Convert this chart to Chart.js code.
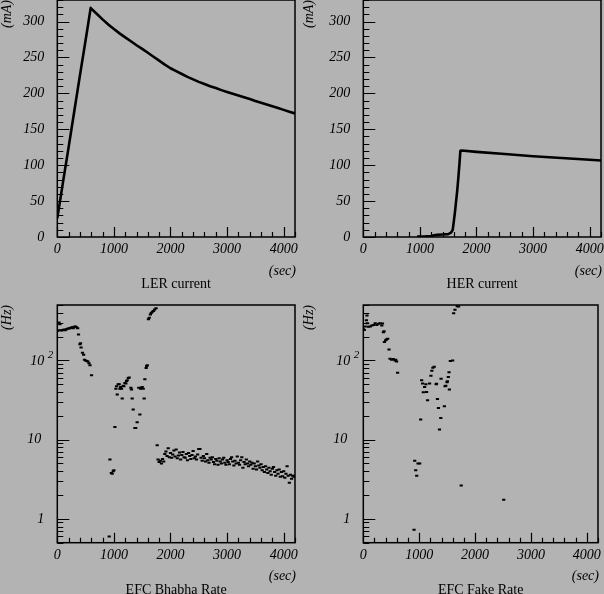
<!DOCTYPE html>
<html>
<head>
<meta charset="utf-8">
<script src="https://cdn.jsdelivr.net/npm/chart.js@4.4.0/dist/chart.umd.min.js"></script>
<style>
    html, body { margin: 0; padding: 0; background: #b3b3b3; }
    #contenedor { position: relative; width: 604px; height: 594px; overflow: hidden; background: #b3b3b3; }
    #contenedor canvas { position: absolute; }
</style>
</head>
<body>
<div id="contenedor">
    <canvas id="chartLer" width="302" height="297" style="left:0;top:0;"></canvas>
    <canvas id="chartHer" width="302" height="297" style="left:302px;top:0;"></canvas>
    <canvas id="chartBhabha" width="302" height="297" style="left:0;top:297px;"></canvas>
    <canvas id="chartFake" width="302" height="297" style="left:302px;top:297px;"></canvas>
</div>
<script>
//////////////////////////////////////////////////////////////////////////////////////
/// DATOS ////////////////////////////////////////////////////////
//////////////////////////////////////////////////////////////////////////////////////
const tiempoTicks = [0, 1000, 2000, 3000, 4000];
const corrienteTicks = [0, 50, 100, 150, 200, 250, 300];
const tasaTicks = [1, 10, 100];

// LER current (mA)
const lerTiempo = [0, 100, 200, 300, 400, 500, 590, 600, 700, 800, 900, 1000, 1100, 1200, 1300, 1400,
    1500, 1600, 1700, 1800, 1900, 2000, 2100, 2200, 2300, 2400, 2500, 2600, 2700, 2800, 2900,
    3000, 3100, 3200, 3300, 3400, 3500, 3600, 3700, 3800, 3900, 4000, 4100, 4200];
const lerCorriente = [26, 76, 125, 175, 225, 274, 319, 318, 310.5, 303, 296, 289.5, 283.5, 278, 272.5, 267,
    262, 256.5, 251, 245.5, 240, 235, 231, 227, 223, 219.5, 216, 213, 210, 207.5, 204.5,
    202, 199.5, 197, 194.5, 192, 189.5, 187, 184.5, 182, 179.5, 177, 174.5, 172];

// HER current (mA)
const herTiempo = [950, 1000, 1100, 1200, 1250, 1300, 1400, 1500, 1550, 1580, 1600, 1620, 1640, 1660,
    1680, 1700, 1715, 1740, 2000, 2500, 3000, 3500, 4000, 4200];
const herCorriente = [0.5, 0.8, 1.0, 1.5, 2.5, 3, 3.5, 4, 6, 10, 22, 35, 50, 65,
    83, 103, 120, 120.5, 118.5, 115.5, 112.5, 110, 107.5, 106.5];

// EFC Bhabha Rate (Hz)
const bhabhaTiempo = [0, 15, 30, 45, 60, 80, 100, 120, 140, 160, 180, 200, 220, 240, 260, 280, 300, 320, 340, 360,
    375, 400, 410, 420, 445, 465, 480, 500, 520, 540, 560, 578, 605,
    917, 930, 955, 970, 988, 1000, 1018,
    1035, 1047, 1059, 1076, 1094, 1106, 1120, 1135, 1147, 1165, 1176, 1195, 1212, 1223, 1235, 1255, 1271,
    1300, 1311, 1323, 1341, 1371, 1385, 1411, 1440, 1459, 1470, 1488, 1500, 1518, 1535, 1547, 1570, 1580, 1590,
    1610, 1625, 1645, 1660, 1680, 1700, 1720, 1745, 1765,
    1780, 1800, 1820, 1840, 1860, 1880, 1900, 1920, 1940, 1960, 1980, 2000, 2020, 2040, 2060, 2080, 2100,
    2120, 2140, 2160, 2180, 2200, 2220, 2240, 2260, 2280, 2300, 2320, 2340, 2360, 2380, 2400, 2420, 2440,
    2460, 2480, 2500, 2520, 2540, 2560, 2580, 2600, 2620, 2640, 2660, 2680, 2700, 2720, 2740, 2760, 2780,
    2800, 2820, 2840, 2860, 2880, 2900, 2920, 2940, 2960, 2980, 3000, 3020, 3040, 3060, 3080, 3100, 3120,
    3140, 3160, 3180, 3200, 3220, 3240, 3260, 3280, 3300, 3320, 3340, 3360, 3380, 3400, 3420, 3440, 3460,
    3480, 3500, 3520, 3540, 3560, 3580, 3600, 3620, 3640, 3660, 3680, 3700, 3720, 3740, 3760, 3780, 3800,
    3820, 3840, 3860, 3880, 3900, 3920, 3940, 3960, 3980, 4000, 4020, 4040, 4060, 4080, 4100, 4120, 4140,
    4160, 4180, 4200];
const bhabhaTasa = [235, 240, 300, 285, 240, 238, 242, 245, 240, 248, 250, 252, 255, 258, 262, 255, 265, 268, 262, 255,
    212, 160, 165, 145, 125, 118, 102, 100, 98, 97, 92, 87, 65,
    0.6, 5.6, 3.8, 3.7, 4.0, 4.1, 14.4,
    44, 47, 37, 50, 50, 44, 46, 44, 33, 48, 47, 52, 51, 55, 56, 60, 61,
    45, 43, 33, 24, 14, 14, 16.6, 45, 20.7, 44, 45, 46, 44, 33, 58, 80, 85, 87,
    330, 345, 380, 395, 410, 420, 440, 455, 8.5,
    5.6, 5.2, 5.4, 5.0, 5.7, 5.3, 6.6, 7.1, 6.2, 7.8, 6.0, 6.8, 5.9, 6.5, 7.3, 6.1, 7.5,
    5.8, 6.3, 6.9, 5.6, 6.4, 7.0, 6.0, 5.9, 6.6, 5.5, 6.8, 6.2, 5.7, 6.4, 7.2, 5.8, 6.1,
    5.6, 6.5, 7.6, 7.6, 5.9, 5.4, 6.2, 5.8, 5.3, 6.6, 5.5, 5.1, 5.9, 5.6, 6.0, 5.2, 4.9,
    5.7, 5.4, 4.8, 5.8, 5.3, 5.0, 5.6, 5.9, 5.1, 4.8, 5.5, 5.2, 4.9, 5.7, 6.0, 5.3, 4.7,
    5.4, 5.0, 6.1, 5.1, 4.8, 5.5, 6.0, 4.4, 5.2, 4.9, 5.6, 5.0, 4.6, 5.3, 4.8, 5.1, 4.3,
    5.0, 4.6, 4.2, 5.3, 4.7, 4.4, 4.9, 4.1, 4.5, 3.9, 4.6, 4.2, 3.8, 4.4, 4.0, 3.6, 4.3,
    4.5, 3.9, 3.5, 4.1, 3.7, 4.2, 3.4, 3.9, 3.45, 4.0, 3.3, 3.7, 4.6, 3.5, 2.85, 3.6, 3.2,
    3.5, 3.4, 3.5];

// EFC Fake Rate (Hz)
const fakeTiempo = [0, 18, 35, 55, 65, 71, 94, 124, 153, 183, 212, 242, 271, 301, 330, 343, 360, 372, 378, 401,
    414, 437, 460, 478, 507, 537, 566, 580, 596, 614,
    908, 920, 938, 956, 979, 1009, 1027, 1044, 1062, 1074, 1097, 1120, 1133, 1150, 1186, 1210, 1227, 1245,
    1269, 1304, 1310, 1327, 1345, 1363, 1387, 1392, 1451, 1463, 1476, 1499, 1504, 1522, 1534, 1540, 1558,
    1599, 1617, 1640, 1681, 1705, 1752, 2513];
const fakeTasa = [250, 242, 267, 320, 368, 295, 265, 268, 275, 280, 295, 280, 290, 295, 275, 292, 227, 234, 170, 180,
    184, 188, 137, 105, 102, 104, 100, 102, 97, 70,
    0.73, 5.4, 4.1, 3.5, 5.0, 5.0, 17.9, 56, 51, 39.5, 46, 50, 40, 31.5, 51, 64, 74, 81,
    83, 50, 50.6, 32.6, 25, 13.4, 18.8, 58.6, 26.4, 47, 48, 53, 54.6, 61.5, 71, 43, 98,
    100, 394, 434, 483, 478, 2.63, 1.74];

//////////////////////////////////////////////////////////////////////////////////////
/// PLUGIN PARA DIBUJAR EL MARCO ESTILO ROOT //////////////////////////////////////////
//////////////////////////////////////////////////////////////////////////////////////
const fuenteNum = "italic 14px 'Liberation Serif', 'DejaVu Serif', serif";

const marcoRoot = {
    id: 'marcoRoot',
    afterDatasetsDraw(chart, args, opts) {
        const ctx = chart.ctx;
        const ca = chart.chartArea;
        const xs = chart.scales.x;
        const ys = chart.scales.y;
        ctx.save();
        ctx.strokeStyle = '#000';
        ctx.fillStyle = '#000';

        // marco
        ctx.lineWidth = 1.5;
        ctx.strokeRect(ca.left, ca.top, ca.right - ca.left, ca.bottom - ca.top);

        // ticks eje x (hacia dentro)
        ctx.lineWidth = 1.2;
        ctx.beginPath();
        for (let v = 0; v <= xs.max; v += 200) {
            const px = Math.round(xs.getPixelForValue(v)) + 0.5;
            const largo = v % 1000 === 0 ? 10 : 5;
            ctx.moveTo(px, ca.bottom);
            ctx.lineTo(px, ca.bottom - largo);
        }
        // ticks eje y
        const menores = [];
        if (opts.log) {
            for (let e = -1; e <= 2; e++) {
                for (let d = 1; d <= 9; d++) {
                    const v = d * Math.pow(10, e);
                    if (v >= ys.min && v <= ys.max) menores.push(v);
                }
            }
        } else {
            for (let v = 0; v <= ys.max; v += 10) menores.push(v);
        }
        menores.forEach(v => {
            const py = Math.round(ys.getPixelForValue(v)) + 0.5;
            const mayor = opts.ticksY.some(t => Math.abs(t - v) < 1e-9);
            ctx.moveTo(ca.left, py);
            ctx.lineTo(ca.left + (mayor ? 12 : 6), py);
        });
        ctx.stroke();

        // etiquetas eje x
        ctx.font = fuenteNum;
        ctx.textAlign = 'center';
        ctx.textBaseline = 'middle';
        tiempoTicks.forEach(t => {
            ctx.fillText(String(t), xs.getPixelForValue(t), ca.bottom + 12.5);
        });

        // etiquetas eje y
        ctx.textAlign = 'right';
        opts.ticksY.forEach(t => {
            const py = ys.getPixelForValue(t);
            if (opts.log && t === 100) {
                ctx.fillText('10', ca.left - 13, py + 1);
                ctx.font = "italic 11px 'Liberation Serif', serif";
                ctx.textAlign = 'left';
                ctx.fillText('2', ca.left - 9.5, py - 5);
                ctx.font = fuenteNum;
                ctx.textAlign = 'right';
            } else if (opts.log && t === 10) {
                ctx.fillText('10', ca.left - 16, py);
            } else {
                ctx.fillText(String(t), ca.left - 13, py);
            }
        });

        // unidades
        ctx.textAlign = 'right';
        ctx.fillText('(sec)', ca.right + 1, ca.bottom + 34);
        ctx.save();
        ctx.translate(7.5, ca.top);
        ctx.rotate(-Math.PI / 2);
        ctx.textAlign = 'right';
        ctx.fillText(opts.unidad, 0, 0);
        ctx.restore();

        // titulo
        ctx.font = "14px 'Liberation Serif', 'DejaVu Serif', serif";
        ctx.textAlign = 'center';
        ctx.fillText(opts.titulo, (ca.left + ca.right) / 2, ca.bottom + 47.5);
        ctx.restore();
    }
};

//////////////////////////////////////////////////////////////////////////////////////
/// CREAR LOS PANELES ////////////////////////////////////////////////////////////////
//////////////////////////////////////////////////////////////////////////////////////
function CrearPanel(id, cfg) {
    const puntos = cfg.tiempo.map((t, i) => ({ x: t, y: cfg.valores[i] }));
    const esLinea = cfg.tipo === 'linea';
    new Chart(document.getElementById(id), {
        type: 'scatter',
        data: {
            datasets: [{
                data: puntos,
                showLine: esLinea,
                borderColor: '#000',
                backgroundColor: '#000',
                borderWidth: esLinea ? 2.6 : 2,
                borderJoinStyle: 'round',
                pointStyle: esLinea ? false : 'line',
                pointRadius: esLinea ? 0 : 1.6,
                pointBorderWidth: 2,
                tension: 0
            }]
        },
        options: {
            responsive: false,
            animation: false,
            events: [],
            layout: { padding: cfg.padding },
            plugins: {
                legend: { display: false },
                tooltip: { enabled: false },
                marcoRoot: { log: cfg.log, ticksY: cfg.ticksY, unidad: cfg.unidad, titulo: cfg.titulo }
            },
            scales: {
                x: { type: 'linear', display: false, min: 0, max: 4200 },
                y: cfg.log
                    ? { type: 'logarithmic', display: false, min: 0.5, max: 500 }
                    : { type: 'linear', display: false, min: 0, max: 330 }
            }
        },
        plugins: [marcoRoot]
    });
}

CrearPanel('chartLer', {
    tiempo: lerTiempo, valores: lerCorriente, tipo: 'linea', log: false, ticksY: corrienteTicks,
    unidad: '(mA)', titulo: 'LER current',
    padding: { left: 57.3, right: 7, top: 0, bottom: 60 }
});
CrearPanel('chartHer', {
    tiempo: herTiempo, valores: herCorriente, tipo: 'linea', log: false, ticksY: corrienteTicks,
    unidad: '(mA)', titulo: 'HER current',
    padding: { left: 61.3, right: 3, top: 0, bottom: 60 }
});
CrearPanel('chartBhabha', {
    tiempo: bhabhaTiempo, valores: bhabhaTasa, tipo: 'puntos', log: true, ticksY: tasaTicks,
    unidad: '(Hz)', titulo: 'EFC Bhabha Rate',
    padding: { left: 57.3, right: 7, top: 8, bottom: 51.3 }
});
CrearPanel('chartFake', {
    tiempo: fakeTiempo, valores: fakeTasa, tipo: 'puntos', log: true, ticksY: tasaTicks,
    unidad: '(Hz)', titulo: 'EFC Fake Rate',
    padding: { left: 61.3, right: 2.5, top: 8, bottom: 51.3 }
});
</script>
</body>
</html>
